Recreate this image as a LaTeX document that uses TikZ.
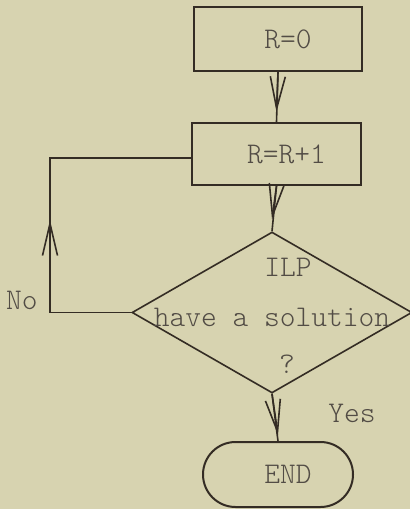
\documentclass[tikz,border=0pt]{standalone}
\usepackage{tikz}
\usetikzlibrary{shapes.geometric,shapes.misc,arrows.meta,positioning}
\definecolor{papier}{RGB}{215,211,176}
\definecolor{tinte}{RGB}{52,44,36}
\tikzset{
	flussbox/.style={draw=tinte,line width=1pt,rectangle,inner sep=0pt,font=\flussfont,execute at begin node={\hspace*{10pt}}},
	entscheid/.style={draw=tinte,line width=0.8pt,diamond,inner sep=0pt},
	ende/.style={draw=tinte,line width=1pt,rounded rectangle,inner sep=0pt,font=\flussfont,execute at begin node={\hspace*{10pt}}},
	schrift/.style={text=tinte!85,inner sep=0pt,font=\flussfont},
	pfeil/.style={draw=tinte,line width=0.8pt,-{Straight Barb[length=16pt,width=7.5pt]}},
	linie/.style={draw=tinte,line width=0.8pt}
}
\newcommand{\flussfont}{\fontsize{15}{18}\selectfont\ttfamily\fontseries{l}\selectfont}
\begin{document}
\begin{tikzpicture}[x=0.5pt,y=-0.5pt]
		\fill[papier] (0,0) rectangle (410,509);
		\useasboundingbox (0,0) rectangle (410,509);
		\node[flussbox,text=tinte!85,minimum width=84pt,minimum height=32pt] (null) at (278,39) {R=0};
		\node[flussbox,text=tinte!85,minimum width=84.5pt,minimum height=31pt] (plus) at (276.5,154) {R=R+1};
		\node[entscheid,minimum width=140pt,minimum height=80.5pt] (frage) at (272,312.5) {};
		\node[ende,text=tinte!85,minimum width=75pt,minimum height=32.5pt] (schluss) at (278,474.5) {END};
		
		\node[schrift] (ilp) at ([xshift=8pt,yshift=22.75pt]frage.center) {ILP};
		\node[schrift] (loesung) at ([yshift=-2.25pt]frage.center) {have a solution};
		\node[schrift] (frz) at ([xshift=7.5pt,yshift=-26pt]frage.center) {?};
		\node[schrift] (nein) at (22,300) {No};
		\node[schrift] (ja) at (352,413) {Yes};
		
		\coordinate (knick) at (50,158);
		\coordinate (hoch) at (50,220);
		
		\draw[linie] (null.south) -- (plus.north);
		\draw[pfeil] (null.south) -- ([yshift=5pt]plus.north);
		\draw[linie] (plus.south) -- (frage.north);
		\draw[pfeil] (plus.south) -- ([yshift=6pt]frage.north);
		\draw[linie] (frage.south) -- (schluss.north);
		\draw[pfeil] (frage.south) -- ([yshift=3pt]schluss.north);
		\draw[linie] (frage.west) -| (knick) -- (plus.west |- knick);
		\draw[pfeil] (frage.west -| knick) -- (hoch);
\end{tikzpicture}
\end{document}
